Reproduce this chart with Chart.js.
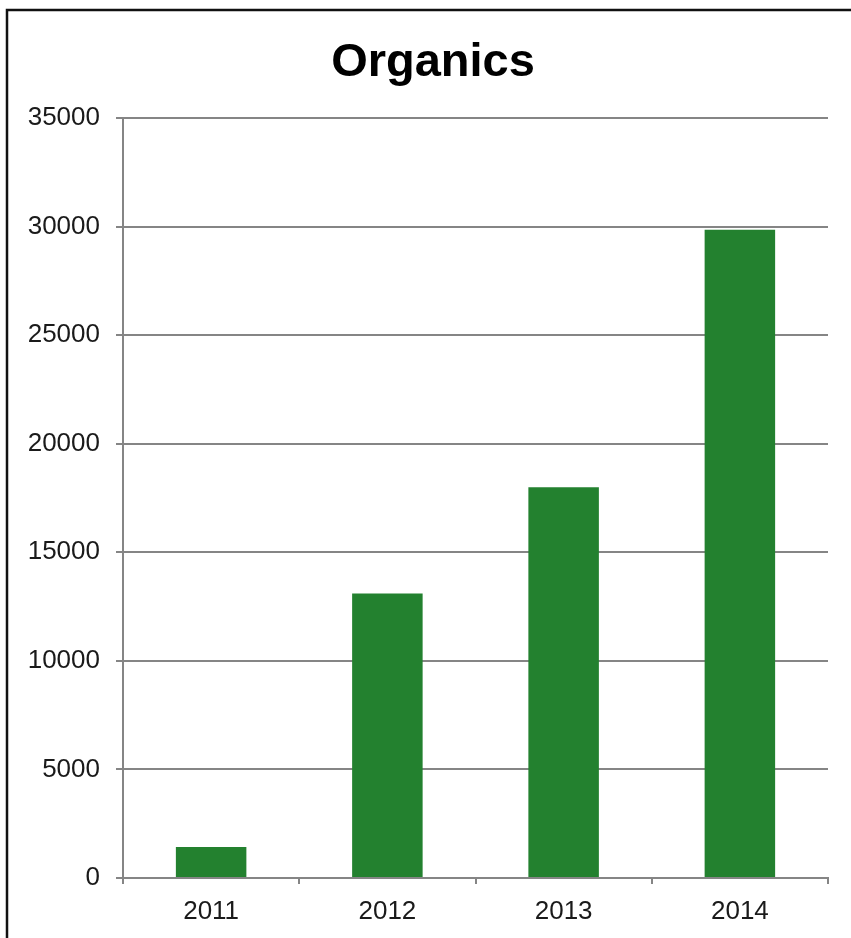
<!DOCTYPE html>
<html>
<head>
<meta charset="utf-8">
<script src="https://cdn.jsdelivr.net/npm/chart.js@4/dist/chart.umd.min.js"></script>
<style>
  html, body { margin: 0; padding: 0; background: #fff; }
  #wrap { position: relative; width: 851px; height: 938px; }
</style>
</head>
<body>
<div id="wrap"><canvas id="chart" width="851" height="938"></canvas></div>
<script>
// data
var chartTitle = 'Organics';
var years = ['2011', '2012', '2013', '2014'];
var organics = [1430, 13100, 18000, 29850];
var yTicks = [0, 5000, 10000, 15000, 20000, 25000, 30000, 35000];

var gridGray = '#858585';
var barGreen = '#23812f';
var fontFam = '"Liberation Sans", Arial, sans-serif';

// black frame round the chart (top + left edge only visible) and the title
var framePlugin = {
    id: 'frame',
    beforeDraw: function(chart){
        var ctx = chart.ctx;
        ctx.save();
        ctx.fillStyle = '#fff';
        ctx.fillRect(0, 0, chart.width, chart.height);
        ctx.strokeStyle = '#111';
        ctx.lineWidth = 2.5;
        ctx.beginPath();
        ctx.moveTo(7, chart.height + 5);
        ctx.lineTo(7, 10);
        ctx.lineTo(chart.width + 5, 10);
        ctx.stroke();
        ctx.restore();
    },
    afterDraw: function(chart){
        // title sits centred on the whole frame, not on the plot area
        var ctx = chart.ctx;
        ctx.save();
        ctx.font = 'bold 47px ' + fontFam;
        ctx.fillStyle = '#000';
        ctx.textAlign = 'center';
        ctx.textBaseline = 'alphabetic';
        ctx.fillText(chartTitle, 433, 76);
        ctx.restore();
    }
};

var ctx = document.getElementById('chart');
var chart = new Chart(ctx, {
    type: 'bar',
    data: {
        labels: years,
        datasets: [{
            label: chartTitle,
            data: organics,
            backgroundColor: barGreen,
            borderWidth: 0,
            barPercentage: 0.4,
            categoryPercentage: 1.0
        }]
    },
    options: {
        responsive: false,
        animation: false,
        layout: { padding: { left: 0, right: 23, top: 118, bottom: 0 } },
        plugins: {
            legend: { display: false },
            tooltip: { enabled: false },
            title: { display: false }
        },
        scales: {
            x: {
                offset: true,
                grid: {
                    offset: true,
                    drawOnChartArea: false,
                    drawTicks: true,
                    tickLength: 6,
                    color: gridGray,
                    lineWidth: 2
                },
                border: { color: gridGray, width: 2 },
                ticks: {
                    color: '#1a1a1a',
                    padding: 12,
                    font: { family: fontFam, size: 26 }
                },
                afterFit: function(scale){ scale.height = 60; }
            },
            y: {
                min: 0,
                max: 35000,
                afterBuildTicks: function(scale){
                    scale.ticks = yTicks.map(function(v){ return { value: v }; });
                },
                grid: {
                    color: gridGray,
                    lineWidth: 2,
                    drawTicks: true,
                    tickLength: 7
                },
                border: { color: gridGray, width: 2 },
                ticks: {
                    color: '#1a1a1a',
                    padding: 16,
                    font: { family: fontFam, size: 26 },
                    callback: function(v){ return String(v); }
                },
                afterFit: function(scale){ scale.width = 123; }
            }
        }
    },
    plugins: [framePlugin]
});
</script>
</body>
</html>
